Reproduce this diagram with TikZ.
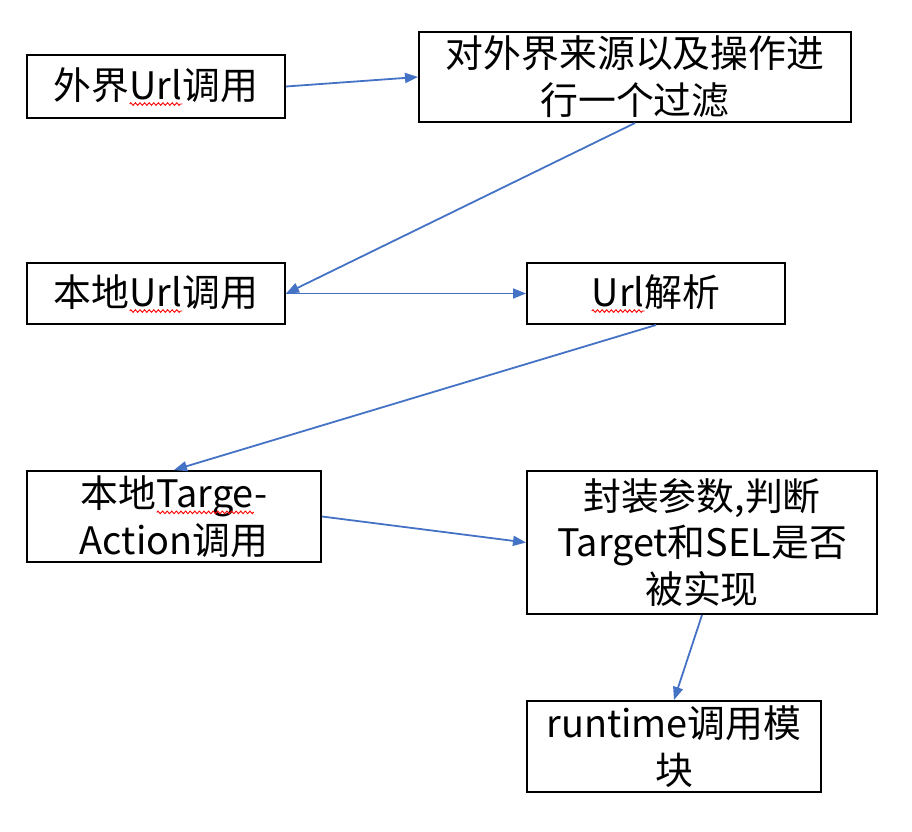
\documentclass[tikz,border=0pt]{standalone}
\usepackage{fontspec}
\setmainfont{Noto Sans CJK SC}
\usetikzlibrary{arrows.meta,decorations.pathmorphing}
\definecolor{arrowblue}{HTML}{4472C4}
\newcommand\spellmark[1]{\tikz[baseline=(sm.base)]{\node[inner sep=0pt,outer sep=0pt,minimum width=0pt,minimum height=0pt,draw=none,align=left](sm){#1};\draw[red,line width=0.9bp,decorate,decoration={zigzag,amplitude=1.3bp,segment length=4.6bp}] ([yshift=-5bp]sm.base west)--([yshift=-5bp]sm.base east);}}
\begin{document}
\begin{tikzpicture}[x=1bp,y=-1bp,
  box/.style={draw=black,line width=2bp,rectangle,inner sep=0pt,align=center,
    font=\fontsize{38}{47}\selectfont},
  conn/.style={draw=arrowblue,line width=1.8bp,-{Triangle[length=13bp,width=10bp]}}]
\useasboundingbox (0,0) rectangle (912,832);
\node[box,minimum width=258bp,minimum height=63bp] (b1) at (156,86.5) {外界\spellmark{Url}调用};
\node[box,minimum width=432bp,minimum height=90bp] (b2) at (635,77) {对外界来源以及操作进\\行一个过滤};
\node[box,minimum width=258bp,minimum height=61bp] (b3) at (156,293.5) {本地\spellmark{Url}调用};
\node[box,minimum width=258bp,minimum height=61bp] (b4) at (656,293.5) {\spellmark{Url}解析};
\node[box,minimum width=294bp,minimum height=91bp] (b5) at (174,516.5) {本地\spellmark{Targe}-\\Action调用};
\node[box,minimum width=350bp,minimum height=143bp] (b6) at (702,542.5) {封装参数,判断\\Target和SEL是否\\被实现};
\node[box,minimum width=294bp,minimum height=91bp] (b7) at (674,746.5) {runtime调用模\\块};
\draw[conn] (b1.east) -- (b2.west);
\draw[conn] (b2.south) -- (b3.east);
\draw[conn] (b3.east) -- (b4.west);
\draw[conn] (b4.south) -- (b5.north);
\draw[conn] (b5.east) -- (b6.west);
\draw[conn] (b6.south) -- (b7.north);
\end{tikzpicture}
\end{document}
